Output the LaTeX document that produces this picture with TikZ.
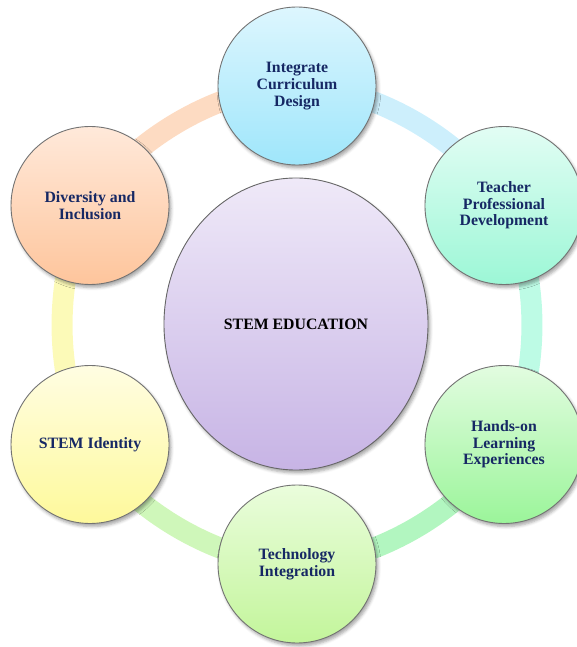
\documentclass[tikz,border=0pt]{standalone}
\usepackage{fontspec}
\setmainfont{Liberation Serif}
\usepackage{xcolor}
\usetikzlibrary{shapes.geometric,shadows.blur,backgrounds}

\definecolor{navy}{RGB}{22,40,100}
% fills: light top, deeper bottom, and the band colour
\definecolor{currtop}{HTML}{DDF6FE}\definecolor{currbot}{HTML}{9FE6FB}\definecolor{currband}{HTML}{CDEFFC}
\definecolor{teachtop}{HTML}{E2FDF4}\definecolor{teachbot}{HTML}{9CF7D6}\definecolor{teachband}{HTML}{BDFBE5}
\definecolor{handstop}{HTML}{E2FCE0}\definecolor{handsbot}{HTML}{9BF59A}\definecolor{handsband}{HTML}{B2F6C0}
\definecolor{techtop}{HTML}{EAFDDC}\definecolor{techbot}{HTML}{C3F59B}\definecolor{techband}{HTML}{CFF7BA}
\definecolor{identtop}{HTML}{FFFDE2}\definecolor{identbot}{HTML}{FEF99B}\definecolor{identband}{HTML}{FCFAB8}
\definecolor{divtop}{HTML}{FFE9DA}\definecolor{divbot}{HTML}{FEC59C}\definecolor{divband}{HTML}{FDDBC2}
\definecolor{stemtop}{HTML}{EFE9F8}\definecolor{stembot}{HTML}{C7B4E5}

\begin{document}
\begin{tikzpicture}[x=1pt,y=1pt,
    bubble/.style={circle, minimum size=158pt, inner sep=0pt, draw=black!55, line width=0.9pt,
      align=center, text=navy, font=\fontsize{15.8}{16.6}\selectfont\bfseries,
      blur shadow={shadow xshift=2pt, shadow yshift=-3pt, shadow blur radius=3pt, shadow opacity=35}},
    band/.style={line width=21pt, bend left=30, looseness=0.8,
      preaction={draw=black, draw opacity=0.12, transform canvas={shift={(1.5pt,-2.5pt)}}}}]
  \useasboundingbox (-297,-322) rectangle (280,325);
  \clip (-297,-322) rectangle (280,325);

  % centre
  \node[ellipse, minimum width=264pt, minimum height=292pt, draw=black!60, line width=0.9pt,
    top color=stemtop, bottom color=stembot,
    blur shadow={shadow xshift=2pt, shadow yshift=-3pt, shadow blur radius=3pt, shadow opacity=35},
    font=\fontsize{15.8}{16.6}\selectfont\bfseries] (stem) at (-1,1) {STEM EDUCATION};

  % six bubbles round the ring
  \node[bubble, top color=currtop, bottom color=currbot] (curr) at (90:239pt) {Integrate\\Curriculum\\Design};
  \node[bubble, top color=teachtop, bottom color=teachbot] (teach) at (30:239pt) {Teacher\\Professional\\Development};
  \node[bubble, top color=handstop, bottom color=handsbot] (hands) at (-30:239pt) {Hands-on\\Learning\\Experiences};
  \node[bubble, top color=techtop, bottom color=techbot] (tech) at (-90:239pt) {Technology\\Integration};
  \node[bubble, top color=identtop, bottom color=identbot] (ident) at (-150:239pt) {STEM Identity};
  \node[bubble, top color=divtop, bottom color=divbot] (div) at (150:239pt) {Diversity and\\Inclusion};

  % ring segments behind the bubbles
  \begin{scope}[on background layer]
    \draw[band, draw=currband] (curr.center) to (teach.center);
    \draw[band, draw=teachband] (teach.center) to (hands.center);
    \draw[band, draw=handsband] (hands.center) to (tech.center);
    \draw[band, draw=techband] (tech.center) to (ident.center);
    \draw[band, draw=identband] (ident.center) to (div.center);
    \draw[band, draw=divband] (div.center) to (curr.center);
  \end{scope}
\end{tikzpicture}
\end{document}
